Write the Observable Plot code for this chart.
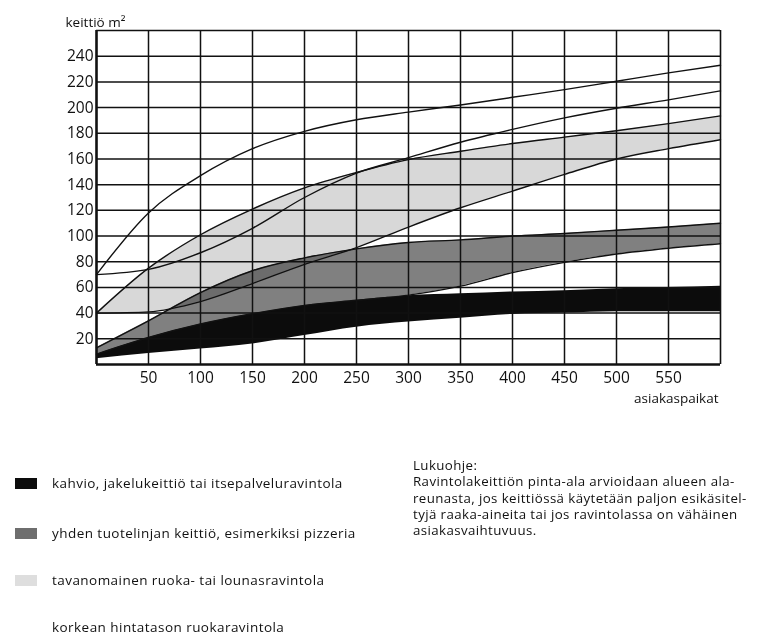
<!DOCTYPE html>
<html>
<head>
<meta charset="utf-8">
<script src="https://cdn.jsdelivr.net/npm/d3@7"></script>
<script src="https://cdn.jsdelivr.net/npm/@observablehq/plot@0.6"></script>
<style>
  body { margin: 0; background: #fff; }
  #wrap { position: relative; width: 766px; height: 640px; font-family: "Open Sans", Lato, sans-serif; color: #111; }
  #chart { position: absolute; left: 0; top: 0; }
  .leg { position: absolute; left: 0; font-size: 13.5px; letter-spacing: 0.45px; white-space: nowrap; }
  .sw { position: absolute; left: 15px; width: 22px; height: 11px; }
  .lt { position: absolute; left: 52px; line-height: 16px; }
  #note { position: absolute; left: 413px; top: 457px; font-size: 13.3px; letter-spacing: 0.4px; line-height: 16.3px; white-space: nowrap; }
</style>
</head>
<body>
<div id="wrap">
  <div id="chart"></div>
</div>
<script>
// x values: asiakaspaikat
const xs = [0, 50, 100, 150, 200, 250, 300, 350, 400, 450, 500, 550, 600];
// kahvio, jakelukeittiö tai itsepalveluravintola (black band)
const kahvioLow  = [4.5, 8.5, 12, 16, 22.5, 29, 33, 36, 39, 40, 41, 41, 41];
const kahvioHigh = [8, 21, 31.5, 39.5, 46, 50, 53.5, 55, 56.5, 57.5, 59, 60, 61];
// yhden tuotelinjan keittiö (dark gray band)
const pizzeriaLow  = [8, 21, 31.5, 39.5, 46, 50, 54, 61, 71.5, 79.5, 86, 90.5, 94];
const pizzeriaHigh = [13, 34, 56, 73, 83, 90, 95, 97, 100, 102, 104.5, 107, 110];
// tavanomainen ruoka- tai lounasravintola (light gray band)
const lounasLow  = [40, 41, 49, 63, 78, 91, 107, 122, 135, 148, 160, 168, 175];
const lounasHigh = [40, 75, 101, 121, 137.5, 149.5, 159.5, 166, 172, 177, 182, 187.5, 193.5];
// korkean hintatason ruokaravintola (white band between lines)
const korkeaLow  = [70, 74, 87, 106, 130, 149, 161, 173, 183, 192, 199.5, 206, 213];
const korkeaHigh = [70, 118, 147, 168, 181.5, 190.5, 196.5, 202, 208, 214, 220.5, 227, 233];

const xTicks = [50, 100, 150, 200, 250, 300, 350, 400, 450, 500, 550];
const yTicks = [20, 40, 60, 80, 100, 120, 140, 160, 180, 200, 220, 240];

const legendLabels = [
  "kahvio, jakelukeittiö tai itsepalveluravintola",
  "yhden tuotelinjan keittiö, esimerkiksi pizzeria",
  "tavanomainen ruoka- tai lounasravintola",
  "korkean hintatason ruokaravintola"
];
const legendColors = ["#0c0c0c", "#6e6e6e", "#dedede", null];
const noteTitle = "Lukuohje:";
const noteLines = [
  "Ravintolakeittiön pinta-ala arvioidaan alueen ala-",
  "reunasta, jos keittiössä käytetään paljon esikäsitel-",
  "tyjä raaka-aineita tai jos ravintolassa on vähäinen",
  "asiakasvaihtuvuus."
];

const data = xs.map((x, i) => ({
  x,
  kl: kahvioLow[i], kh: kahvioHigh[i],
  pl: pizzeriaLow[i], ph: pizzeriaHigh[i],
  ll: lounasLow[i], lh: lounasHigh[i],
  hl: korkeaLow[i], hh: korkeaHigh[i]
}));

const curve = "monotone-x";
const lineOpts = {x: "x", curve, stroke: "#111", strokeWidth: 1.4};

const chart = Plot.plot({
  width: 766,
  height: 410,
  marginLeft: 96,
  marginRight: 46,
  marginTop: 30,
  marginBottom: 46,
  x: {domain: [0, 600]},
  y: {domain: [0, 260]},
  style: {fontFamily: "'Open Sans', Lato, sans-serif", background: "#fff", color: "#111"},
  marks: [
    Plot.areaY(data, {x: "x", y1: "ll", y2: "lh", fill: "#d8d8d8", curve}),
    Plot.areaY(data, {x: "x", y1: "pl", y2: "ph", fill: "#808080", curve, mixBlendMode: "multiply"}),
    Plot.areaY(data, {x: "x", y1: "kl", y2: "kh", fill: "#0c0c0c", curve}),
    Plot.ruleX(xTicks, {stroke: "#111", strokeWidth: 1.5}),
    Plot.ruleY(yTicks, {stroke: "#111", strokeWidth: 1.5}),
    Plot.line(data, {...lineOpts, y: "hh"}),
    Plot.line(data, {...lineOpts, y: "hl"}),
    Plot.line(data, {...lineOpts, y: "lh"}),
    Plot.line(data, {...lineOpts, y: "ll"}),
    Plot.line(data, {...lineOpts, y: "ph"}),
    Plot.line(data, {...lineOpts, y: "pl"}),
    Plot.ruleX([600], {stroke: "#111", strokeWidth: 1.6}),
    Plot.ruleY([260], {stroke: "#111", strokeWidth: 1.6}),
    Plot.ruleX([0], {stroke: "#111", strokeWidth: 2.6}),
    Plot.ruleY([0], {stroke: "#111", strokeWidth: 2.6}),
    Plot.axisX(xTicks, {tickSize: 0, tickPadding: 7, fontSize: 15.5, label: null, fill: "#111"}),
    Plot.axisY(yTicks, {tickSize: 0, tickPadding: 3, fontSize: 15.5, label: null, fill: "#111"}),
    Plot.text(["keittiö m²"], {frameAnchor: "top-left", textAnchor: "start", dx: -31, dy: -13, fontSize: 13.5, fill: "#111"}),
    Plot.text(["asiakaspaikat"], {frameAnchor: "bottom-right", textAnchor: "end", dx: -2, dy: 38, fontSize: 13.5, fill: "#111"})
  ]
});
document.getElementById("chart").appendChild(chart);

const wrap = document.getElementById("wrap");
const rowY = [483, 533, 580, 627];
legendLabels.forEach((label, i) => {
  if (legendColors[i]) {
    const sw = document.createElement("div");
    sw.className = "sw";
    sw.style.top = (rowY[i] - 5.5) + "px";
    sw.style.background = legendColors[i];
    wrap.appendChild(sw);
  }
  const t = document.createElement("div");
  t.className = "leg lt";
  t.style.top = (rowY[i] - 8) + "px";
  t.textContent = label;
  wrap.appendChild(t);
});
const note = document.createElement("div");
note.id = "note";
note.innerHTML = [noteTitle, ...noteLines].map(s => `<div>${s}</div>`).join("");
wrap.appendChild(note);
</script>
</body>
</html>
